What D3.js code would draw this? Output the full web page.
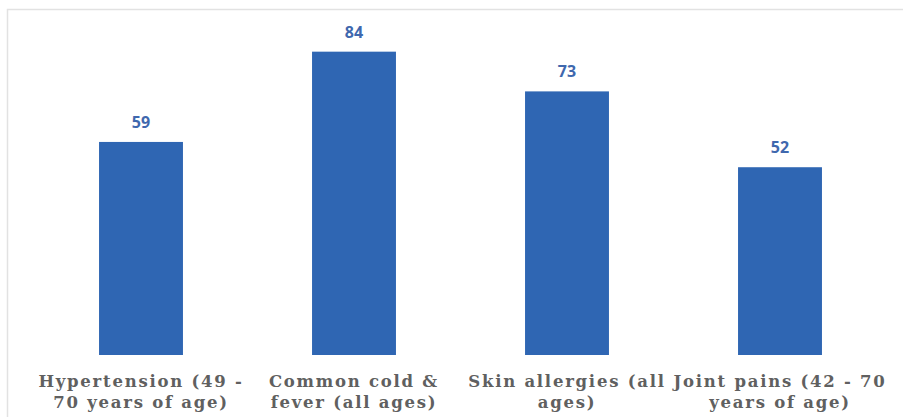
<!DOCTYPE html>
<html><head><meta charset="utf-8">
<script src="https://cdn.jsdelivr.net/npm/d3@7"></script>
<style>html,body{margin:0;padding:0;background:#fff;}svg{display:block;}</style>
</head><body>
<svg id="chart" width="903" height="417"></svg>
<script>
const categories = [
  ["Hypertension (49 -", "70 years of age)"],
  ["Common cold &", "fever (all ages)"],
  ["Skin allergies (all", "ages)"],
  ["Joint pains (42 - 70", "years of age)"]
];
const values = [59, 84, 73, 52];

const svg = d3.select("#chart");
const W = 903, H = 417;
svg.append("rect").attr("x", 0).attr("y", 0).attr("width", W).attr("height", H).attr("fill", "#fff");
// chart border (top & left visible)
svg.append("rect").attr("x", 7.5).attr("y", 9.5).attr("width", W + 10).attr("height", H + 10)
  .attr("fill", "#fff").attr("stroke", "#e2e2e2").attr("stroke-width", 1.5);

const keys = categories.map((c, i) => i);
const x = d3.scaleBand().domain(keys).range([34.5, 886.5]).paddingInner(0.606).paddingOuter(0.303);
const y = d3.scaleLinear().domain([0, 90]).range([355, 30]);

svg.append("g").selectAll("rect").data(values).join("rect")
  .attr("x", (d, i) => x(i)).attr("width", x.bandwidth())
  .attr("y", d => y(d)).attr("height", d => y(0) - y(d))
  .attr("fill", "#2F66B3");

svg.append("g").selectAll("text").data(values).join("text")
  .attr("x", (d, i) => x(i) + x.bandwidth() / 2).attr("y", d => y(d) - 14)
  .attr("text-anchor", "middle")
  .attr("font-family", "'Open Sans', 'Liberation Sans', sans-serif")
  .attr("font-weight", "bold").attr("font-size", 16).attr("fill", "#3F68AE")
  .text(d => d);

const lab = svg.append("g").selectAll("text").data(categories).join("text")
  .attr("text-anchor", "middle")
  .attr("font-family", "'DejaVu Serif', serif").attr("font-weight", "bold")
  .attr("font-size", 16.5).attr("letter-spacing", 1.75).attr("fill", "#606060");
lab.each(function(d, i) {
  const t = d3.select(this);
  d.forEach((line, j) => {
    t.append("tspan").attr("x", x(i) + x.bandwidth() / 2).attr("y", 387 + j * 21).text(line);
  });
});
</script>
</body></html>
